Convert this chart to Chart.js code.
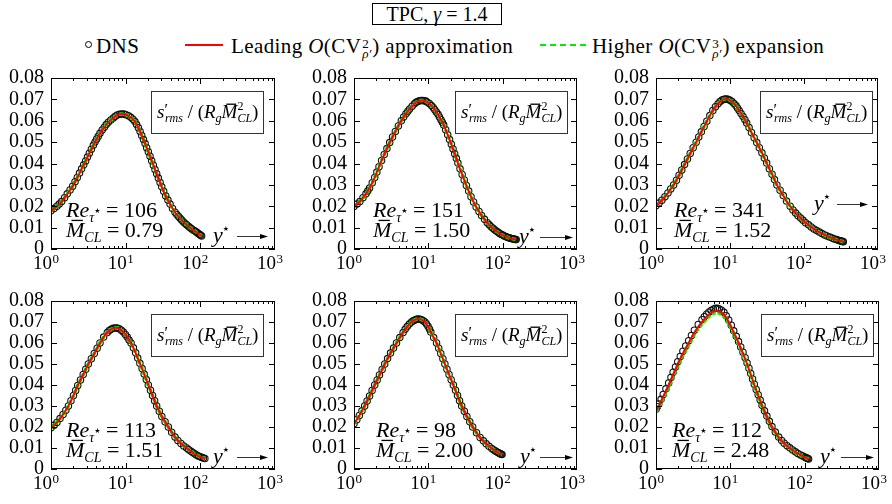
<!DOCTYPE html>
<html>
<head>
<meta charset="utf-8">
<script src="https://cdn.jsdelivr.net/npm/chart.js@4.4.1/dist/chart.umd.min.js"></script>
<style>
  body { margin: 0; background: #fff; width: 892px; height: 504px; position: relative; overflow: hidden;
         font-family: "Liberation Serif", "Times New Roman", serif; color: #000; }
  canvas { position: absolute; }
  .t { position: absolute; font-size: 21px; line-height: 19px; letter-spacing: 0.4px; white-space: nowrap; }
  #title { position: absolute; left: 372px; top: 3px; width: 130px; height: 22px; border: 1px solid #000;
           box-sizing: border-box; font-size: 20px; line-height: 20px; text-align: center; white-space: nowrap; }
  .ss { display: inline-block; vertical-align: -5px; font-size: 13px; line-height: 10px; text-align: left; margin: 0 1px; letter-spacing: 0; }
  #dnsMark { position: absolute; left: 85px; top: 41px; width: 5px; height: 5px; border: 1.3px solid #000; border-radius: 50%; }
  #redMark { position: absolute; left: 185px; top: 44px; width: 38px; height: 2px; background: #ff0000; }
  #greenMark { position: absolute; left: 540px; top: 44px; width: 46px; border-top: 2px dashed #00ee00; }
</style>
</head>
<body>
<div id="title">TPC, <i>γ</i> = 1.4</div>
<div id="dnsMark"></div>
<div class="t" style="left:96px;top:37px">DNS</div>
<div id="redMark"></div>
<div class="t" style="left:231px;top:37px">Leading <i>O</i>(CV<span class="ss">2<br><i>ρ′</i></span>) approximation</div>
<div id="greenMark"></div>
<div class="t" style="left:592px;top:37px">Higher <i>O</i>(CV<span class="ss">3<br><i>ρ′</i></span>) expansion</div>

<canvas id="c1"></canvas>
<canvas id="c2"></canvas>
<canvas id="c3"></canvas>
<canvas id="c4"></canvas>
<canvas id="c5"></canvas>
<canvas id="c6"></canvas>

<script>
// axis ticks
const yTicks = [0, 0.01, 0.02, 0.03, 0.04, 0.05, 0.06, 0.07, 0.08];
const xDecades = [1, 10, 100, 1000];
const xExps = ['0', '1', '2', '3'];

// panel 1: Re = 106, M = 0.79
const yp1 = [1, 1.1, 1.2, 1.29, 1.39, 1.52, 1.65, 1.8, 1.95, 2.1, 2.25, 2.41, 2.57, 2.74, 2.91, 3.08, 3.26, 3.47, 3.69, 3.89,
  4.09, 4.3, 4.53, 4.85, 5.18, 5.5, 5.86, 6.33, 6.84, 7.27, 7.73, 8.27, 8.84, 9.45, 10.1, 10.9, 11.7, 12.5, 13.3, 14.0,
  14.8, 15.6, 16.4, 17.3, 18.2, 19.1, 20.1, 21.2, 22.3, 23.5, 24.7, 26, 27.4, 28.9, 30.4, 32.3, 34.4, 36.8, 39.3, 42.4,
  45.8, 48.4, 51, 53.6, 56.2, 59, 62, 65.5, 69.1, 72.5, 76, 80, 84.8, 88.5, 92, 95, 98, 101, 104];
const dns1 = [0.0179, 0.0189, 0.0200, 0.0210, 0.0222, 0.0240, 0.0258, 0.0276, 0.0294, 0.0315, 0.0335, 0.0355, 0.0375, 0.0394, 0.0412, 0.0430, 0.0448, 0.0467, 0.0485, 0.0501,
  0.0515, 0.0528, 0.0541, 0.0557, 0.0570, 0.0582, 0.0593, 0.0604, 0.0613, 0.0621, 0.0627, 0.0630, 0.0632, 0.0631, 0.0628, 0.0623, 0.0616, 0.0607, 0.0596, 0.0582,
  0.0567, 0.0550, 0.0531, 0.0512, 0.0493, 0.0474, 0.0455, 0.0434, 0.0413, 0.0392, 0.0372, 0.0352, 0.0332, 0.0311, 0.0291, 0.0270, 0.0248, 0.0229, 0.0210, 0.0190,
  0.0172, 0.0161, 0.0152, 0.0144, 0.0136, 0.0128, 0.0121, 0.0114, 0.0107, 0.0101, 0.0095, 0.0089, 0.0084, 0.0079, 0.0075, 0.0071, 0.0068, 0.0064, 0.0061];

// panel 2: Re = 151, M = 1.50
const yp2 = [1, 1.1, 1.2, 1.32, 1.45, 1.53, 1.62, 1.76, 1.9, 2.03, 2.17, 2.35, 2.55, 2.77, 3.02, 3.3, 3.6, 3.95, 4.33, 4.66,
  5.0, 5.3, 5.6, 6.05, 6.5, 6.85, 7.2, 7.6, 8.0, 8.4, 8.8, 9.2, 9.6, 10.3, 11, 11.6, 12.2, 12.8, 13.5, 14.1,
  14.8, 15.4, 16.1, 17.1, 18.2, 19.3, 20.4, 21.5, 22.6, 23.8, 25, 26.7, 28.5, 30.4, 32.5, 34.9, 37.5, 40.6, 44,
  48, 52, 57, 62, 66, 70, 74, 78, 82, 87, 91, 95, 100, 105, 110, 115, 120, 125, 130, 135, 140, 144, 148, 152];
const dns2 = [0.0199, 0.0210, 0.0222, 0.0240, 0.0258, 0.0271, 0.0285, 0.0310, 0.0335, 0.0360, 0.0385, 0.0414, 0.0442, 0.0470, 0.0498, 0.0524, 0.0550, 0.0576, 0.0600, 0.0618,
  0.0633, 0.0645, 0.0655, 0.0668, 0.0679, 0.0686, 0.0690, 0.0693, 0.0695, 0.0695, 0.0694, 0.0692, 0.0688, 0.0681, 0.0671, 0.0662, 0.0652, 0.0641, 0.0630, 0.0618,
  0.0605, 0.0593, 0.0580, 0.0558, 0.0535, 0.0512, 0.0490, 0.0468, 0.0446, 0.0424, 0.0402, 0.0375, 0.0349, 0.0323, 0.0297, 0.0271, 0.0245, 0.0220, 0.0197,
  0.0176, 0.0157, 0.0139, 0.0123, 0.0113, 0.0104, 0.0097, 0.0090, 0.0084, 0.0078, 0.0073, 0.0069, 0.0065, 0.0061, 0.0058, 0.0055, 0.0053, 0.0051, 0.0049, 0.0048, 0.0047, 0.0046, 0.0045, 0.0044];

// panel 3: Re = 341, M = 1.52
const yp3 = [1, 1.1, 1.2, 1.32, 1.45, 1.58, 1.73, 1.89, 2.05, 2.23, 2.43, 2.66, 2.9, 3.18, 3.49, 3.78, 4.1, 4.46, 4.86, 5.34,
  5.86, 6.36, 6.9, 7.34, 7.8, 8.2, 8.6, 9.05, 9.5, 10.0, 10.6, 11.3, 12, 12.6, 13.3, 14.1, 15, 15.9, 16.8, 18.1,
  19.5, 21.2, 23, 24.9, 27, 29.1, 31.3, 34, 37, 39.9, 43, 47.5, 52.5,
  58, 65, 71, 77, 83, 90, 97, 105, 115, 125, 136, 148, 161, 175, 190, 205, 222, 240, 257, 275, 290, 305, 315, 325, 333, 340];
const dns3 = [0.0202, 0.0215, 0.0228, 0.0245, 0.0262, 0.0281, 0.0300, 0.0322, 0.0345, 0.0370, 0.0395, 0.0421, 0.0447, 0.0474, 0.0500, 0.0524, 0.0548, 0.0573, 0.0598, 0.0624,
  0.0648, 0.0666, 0.0680, 0.0690, 0.0697, 0.0700, 0.0702, 0.0702, 0.0700, 0.0696, 0.0690, 0.0681, 0.0671, 0.0660, 0.0648, 0.0634, 0.0620, 0.0605, 0.0590, 0.0568,
  0.0545, 0.0521, 0.0498, 0.0474, 0.0450, 0.0426, 0.0402, 0.0376, 0.0350, 0.0325, 0.0300, 0.0275, 0.0250,
  0.0224, 0.0200, 0.0183, 0.0168, 0.0156, 0.0145, 0.0134, 0.0123, 0.0113, 0.0103, 0.0094, 0.0086, 0.0079, 0.0072, 0.0066, 0.0061, 0.0056, 0.0051, 0.0047, 0.0044, 0.0041, 0.0039, 0.0037, 0.0036, 0.0035, 0.0034];

// panel 4: Re = 113, M = 1.51
const yp4 = [1, 1.1, 1.2, 1.32, 1.45, 1.58, 1.71, 1.85, 2.0, 2.14, 2.28, 2.48, 2.7, 2.92, 3.16, 3.47, 3.8, 4.15, 4.53, 5.07,
  5.68, 6.03, 6.4, 6.8, 7.2, 7.7, 8.2, 8.75, 9.3, 9.9, 10.5, 11.1, 11.8, 12.7, 13.6, 14.5, 15.5, 16.6, 17.7, 18.9,
  20.1, 21.5, 22.9, 24.4, 26, 28.2, 30.5, 33.7, 37.3, 41.3, 45.8,
  50, 55, 60, 65.6, 70, 75, 80, 85, 90, 95, 100, 105, 110, 115];
const dns4 = [0.0196, 0.0208, 0.0222, 0.0240, 0.0260, 0.0280, 0.0300, 0.0325, 0.0350, 0.0374, 0.0398, 0.0424, 0.0450, 0.0475, 0.0500, 0.0525, 0.0550, 0.0575, 0.0600, 0.0628,
  0.0650, 0.0659, 0.0665, 0.0670, 0.0672, 0.0671, 0.0668, 0.0661, 0.0652, 0.0641, 0.0628, 0.0614, 0.0600, 0.0577, 0.0553, 0.0528, 0.0503, 0.0478, 0.0452, 0.0426,
  0.0400, 0.0375, 0.0350, 0.0325, 0.0300, 0.0275, 0.0250, 0.0225, 0.0200, 0.0175, 0.0152,
  0.0136, 0.0122, 0.0110, 0.0100, 0.0092, 0.0084, 0.0077, 0.0071, 0.0066, 0.0061, 0.0058, 0.0055, 0.0052, 0.0050];

// panel 5: Re = 98, M = 2.00
const yp5 = [1, 1.09, 1.18, 1.28, 1.39, 1.5, 1.62, 1.75, 1.9, 2.05, 2.2, 2.39, 2.59, 2.83, 3.1, 3.4, 3.73, 4.13, 4.58, 4.88,
  5.2, 5.55, 5.94, 6.26, 6.6, 6.95, 7.3, 7.7, 8.1, 8.55, 9.0, 9.45, 9.9, 10.35, 10.8, 11.8, 12.9, 13.8, 14.7, 15.7,
  16.7, 17.8, 19, 20.3, 21.7, 23.2, 24.7, 26.3, 28.1, 30.5, 33, 36.1, 39.5,
  44.5, 49.7, 55, 60, 65.5, 71.3, 76, 80, 84, 88, 91, 94, 96, 98];
const dns5 = [0.0215, 0.0235, 0.0255, 0.0277, 0.0300, 0.0324, 0.0348, 0.0374, 0.0400, 0.0424, 0.0448, 0.0474, 0.0500, 0.0526, 0.0552, 0.0576, 0.0600, 0.0626, 0.0650, 0.0665,
  0.0678, 0.0690, 0.0700, 0.0706, 0.0710, 0.0713, 0.0714, 0.0713, 0.0711, 0.0706, 0.0700, 0.0691, 0.0680, 0.0667, 0.0652, 0.0626, 0.0600, 0.0575, 0.0550, 0.0525,
  0.0500, 0.0475, 0.0450, 0.0425, 0.0400, 0.0375, 0.0350, 0.0325, 0.0300, 0.0275, 0.0250, 0.0225, 0.0200,
  0.0173, 0.0150, 0.0134, 0.0120, 0.0108, 0.0098, 0.0091, 0.0086, 0.0081, 0.0077, 0.0074, 0.0072, 0.0070, 0.0069];

// panel 6: Re = 112, M = 2.48 (the three curves separate a little near the peak)
const yp6 = [1, 1.04, 1.09, 1.17, 1.25, 1.36, 1.48, 1.59, 1.7, 1.83, 1.96, 2.12, 2.3, 2.51, 2.75, 3.0, 3.28, 3.7, 4.16, 4.47,
  4.8, 5.14, 5.5, 5.9, 6.3, 6.7, 7.1, 7.6, 8.2, 8.8, 9.5, 10.3, 11.1, 12.0, 12.9, 13.8, 14.8, 15.8, 16.8, 17.8,
  18.8, 19.9, 21, 22.3, 23.7, 25.2, 26.7, 28.8, 31, 33.5, 36.3, 40.3, 44.7,
  49, 53, 58, 63, 69, 75, 81, 88, 94, 100, 104, 107, 110, 113];
const dns6 = [0.0285, 0.0297, 0.0310, 0.0332, 0.0355, 0.0382, 0.0410, 0.0436, 0.0461, 0.0486, 0.0511, 0.0536, 0.0561, 0.0586, 0.0611, 0.0636, 0.0661, 0.0688, 0.0711, 0.0725,
  0.0737, 0.0747, 0.0755, 0.0761, 0.0765, 0.0765, 0.0762, 0.0756, 0.0746, 0.0730, 0.0710, 0.0685, 0.0658, 0.0632, 0.0607, 0.0581, 0.0556, 0.0530, 0.0505, 0.0480,
  0.0455, 0.0429, 0.0404, 0.0379, 0.0354, 0.0328, 0.0303, 0.0277, 0.0252, 0.0227, 0.0202, 0.0176, 0.0152,
  0.0136, 0.0123, 0.0111, 0.0101, 0.0091, 0.0082, 0.0074, 0.0067, 0.0062, 0.0057, 0.0054, 0.0052, 0.0050, 0.0048];
const lead6 = [0.0275, 0.0287, 0.0300, 0.0322, 0.0345, 0.0372, 0.0400, 0.0425, 0.0450, 0.0475, 0.0500, 0.0525, 0.0550, 0.0575, 0.0600, 0.0625, 0.0650, 0.0677, 0.0700, 0.0713,
  0.0725, 0.0735, 0.0743, 0.0749, 0.0753, 0.0753, 0.0750, 0.0744, 0.0735, 0.0720, 0.0700, 0.0676, 0.0650, 0.0625, 0.0600, 0.0575, 0.0550, 0.0525, 0.0500, 0.0475,
  0.0450, 0.0425, 0.0400, 0.0375, 0.0350, 0.0325, 0.0300, 0.0275, 0.0250, 0.0225, 0.0200, 0.0175, 0.0150,
  0.0134, 0.0122, 0.0110, 0.0100, 0.0090, 0.0081, 0.0073, 0.0066, 0.0061, 0.0056, 0.0053, 0.0051, 0.0049, 0.0047];
const high6 = [0.0270, 0.0281, 0.0293, 0.0314, 0.0337, 0.0364, 0.0392, 0.0417, 0.0442, 0.0467, 0.0492, 0.0517, 0.0542, 0.0567, 0.0592, 0.0617, 0.0642, 0.0669, 0.0692, 0.0705,
  0.0717, 0.0727, 0.0735, 0.0741, 0.0745, 0.0745, 0.0742, 0.0736, 0.0727, 0.0713, 0.0693, 0.0670, 0.0645, 0.0620, 0.0596, 0.0571, 0.0547, 0.0522, 0.0497, 0.0472,
  0.0448, 0.0423, 0.0398, 0.0374, 0.0349, 0.0324, 0.0299, 0.0274, 0.0249, 0.0224, 0.0199, 0.0174, 0.0149,
  0.0133, 0.0121, 0.0109, 0.0099, 0.0089, 0.0080, 0.0072, 0.0065, 0.0060, 0.0055, 0.0052, 0.0050, 0.0048, 0.0046];

const FONT = '"Liberation Serif", "Times New Roman", serif';
const STAR = '"DejaVu Sans", sans-serif';

// rect = plot area [left, top, right, bottom]; txt/box/ys = where the labels sit
const panels = [
  { id: 'c1', rect: [51, 75, 275, 249], yp: yp1, dns: dns1, lead: dns1, high: dns1, re: '106', mcl: '0.79', txt: 15, box: 12, ys: [-62, -38, -7, 13] },
  { id: 'c2', rect: [354, 75, 577, 249], yp: yp2, dns: dns2, lead: dns2, high: dns2, re: '151', mcl: '1.50', txt: 19, box: 10, ys: [-58, -37, -4, 12] },
  { id: 'c3', rect: [656, 75, 878, 249], yp: yp3, dns: dns3, lead: dns3, high: dns3, re: '341', mcl: '1.52', txt: 18, box: 6, ys: [-64, -41, -10, 45] },
  { id: 'c4', rect: [51, 298, 275, 469], yp: yp4, dns: dns4, lead: dns4, high: dns4, re: '113', mcl: '1.51', txt: 15, box: 12, ys: [-62, -38, -7, 12] },
  { id: 'c5', rect: [354, 298, 577, 469], yp: yp5, dns: dns5, lead: dns5, high: dns5, re: '98', mcl: '2.00', txt: 22, box: 10, ys: [-57, -37, -4, 12] },
  { id: 'c6', rect: [656, 298, 879, 469], yp: yp6, dns: dns6, lead: lead6, high: high6, re: '112', mcl: '2.48', txt: 16, box: 6, ys: [-59, -38, -5, 12] }
];

const PAD_L = 50, PAD_T = 14, PAD_R = 20, PAD_B = 28;

function drawParts(ctx, x, y, parts) {
  for (const p of parts) {
    ctx.font = (p.i ? 'italic ' : '') + p.s + 'px ' + (p.f || FONT);
    const w = ctx.measureText(p.t).width;
    const px = x + (p.dx || 0);
    ctx.fillText(p.t, px, y + (p.dy || 0));
    if (p.bar) ctx.fillRect(px + w * 0.3, y - p.s * 0.76, w * 0.62, 1.3);
    if (!p.stay) x = px + w;
  }
  return x;
}

const decor = {
  id: 'decor',
  afterDraw(chart, args, o) {
    const ctx = chart.ctx;
    const { left, right, top, bottom } = chart.chartArea;
    const xs = chart.scales.x, ys = chart.scales.y;
    ctx.save();
    ctx.strokeStyle = '#000';
    ctx.fillStyle = '#000';
    ctx.lineWidth = 1;
    ctx.strokeRect(left + 0.5, top + 0.5, right - left - 1, bottom - top - 1);

    // inward ticks
    ctx.beginPath();
    yTicks.forEach(v => {
      const py = Math.round(ys.getPixelForValue(v)) + 0.5;
      ctx.moveTo(left, py); ctx.lineTo(left + 6, py);
      ctx.moveTo(right, py); ctx.lineTo(right - 6, py);
    });
    [1, 10, 100].forEach(d => {
      for (let m = 1; m <= 9; m++) {
        const v = d * m;
        if (v <= 1) continue;
        const px = Math.round(xs.getPixelForValue(v)) + 0.5;
        const len = m === 1 ? 6 : 3;
        ctx.moveTo(px, bottom); ctx.lineTo(px, bottom - len);
        ctx.moveTo(px, top); ctx.lineTo(px, top + len);
      }
    });
    ctx.stroke();

    // x tick labels: "10" with a raised exponent
    ctx.textBaseline = 'alphabetic';
    xDecades.forEach((d, i) => {
      const px = xs.getPixelForValue(d);
      ctx.textAlign = 'right';
      ctx.font = '19px ' + FONT;
      ctx.fillText('10', px + 1, bottom + 19.5);
      ctx.textAlign = 'left';
      ctx.font = '13px ' + FONT;
      ctx.fillText(xExps[i], px + 1.5, bottom + 14);
    });
    ctx.textAlign = 'left';

    // quantity box
    const bw = 112, bh = 42;
    const bx = right - o.box - bw, by = top + 13;
    ctx.strokeStyle = '#333';
    ctx.strokeRect(Math.round(bx) + 0.5, Math.round(by) + 0.5, bw, bh);
    drawParts(ctx, bx + 6, by + 27, [
      { t: 's', i: 1, s: 19 }, { t: '′', s: 16, dy: -3 }, { t: 'rms', i: 1, s: 12, dy: 4, dx: -3 },
      { t: ' / (', s: 19 }, { t: 'R', i: 1, s: 19 }, { t: 'g', i: 1, s: 12, dy: 4 },
      { t: 'M', i: 1, s: 19, bar: 1 }, { t: '2', s: 12, dy: -8, stay: 1 },
      { t: 'CL', i: 1, s: 12, dy: 4 }, { t: ')', s: 19 }
    ]);

    // Re and Mach labels
    const tx = left + o.txt;
    drawParts(ctx, tx, bottom - 32.5, [
      { t: 'Re', i: 1, s: 22 }, { t: 'τ', i: 1, s: 14, dy: 5 }, { t: '★', s: 7, dy: -4, f: STAR },
      { t: ' = ' + o.re, s: 22 }
    ]);
    drawParts(ctx, tx, bottom - 12.5, [
      { t: 'M', i: 1, s: 22, bar: 1 }, { t: 'CL', i: 1, s: 14, dy: 5 }, { t: ' = ' + o.mcl, s: 22 }
    ]);

    // y* arrow
    const ay = bottom - o.ys[3];
    drawParts(ctx, right + o.ys[0], ay + 6, [{ t: 'y', i: 1, s: 22 }, { t: '★', s: 7, dy: -11, f: STAR }]);
    const x1 = right + o.ys[1], x2 = right + o.ys[2];
    ctx.beginPath();
    ctx.moveTo(x1, ay + 0.5); ctx.lineTo(x2 - 6, ay + 0.5);
    ctx.stroke();
    ctx.beginPath();
    ctx.moveTo(x2, ay + 0.5); ctx.lineTo(x2 - 8, ay - 2); ctx.lineTo(x2 - 8, ay + 3);
    ctx.closePath(); ctx.fill();
    ctx.restore();
  }
};

function makePanel(p) {
  const [l, t, r, b] = p.rect;
  const cv = document.getElementById(p.id);
  cv.width = (r - l) + PAD_L + PAD_R;
  cv.height = (b - t) + PAD_T + PAD_B;
  cv.style.left = (l - PAD_L) + 'px';
  cv.style.top = (t - PAD_T) + 'px';
  const pts = vals => p.yp.map((x, i) => ({ x: x, y: vals[i] }));

  new Chart(cv, {
    type: 'line',
    data: {
      datasets: [
        { label: 'Leading', data: pts(p.lead), borderColor: '#ff0000', borderWidth: 2, pointRadius: 0, tension: 0.3, order: 0 },
        { label: 'Higher', data: pts(p.high), borderColor: '#00ee00', borderWidth: 3.5, borderDash: [4, 2], pointRadius: 0, tension: 0.3, order: 1 },
        { label: 'DNS', data: pts(p.dns), showLine: false, pointStyle: 'circle', pointRadius: 3.2,
          pointBorderWidth: 1.1, pointBorderColor: '#111', pointBackgroundColor: 'rgba(0,0,0,0)', order: 2 }
      ]
    },
    options: {
      responsive: false,
      animation: false,
      devicePixelRatio: 1,
      layout: { padding: { top: PAD_T, right: PAD_R, left: 0, bottom: 0 } },
      plugins: {
        legend: { display: false },
        tooltip: { enabled: false },
        decor: { box: p.box, txt: p.txt, ys: p.ys, re: p.re, mcl: p.mcl }
      },
      scales: {
        x: {
          type: 'logarithmic', min: 1, max: 1000,
          grid: { display: false, drawTicks: false }, border: { display: false },
          ticks: { display: false },
          afterFit: s => { s.height = PAD_B; }
        },
        y: {
          min: 0, max: 0.08,
          grid: { display: false, drawTicks: false }, border: { display: false },
          ticks: {
            stepSize: 0.01, padding: 7, color: '#000', autoSkip: false,
            font: { family: FONT, size: 20, lineHeight: 1 },
            callback: v => Math.abs(v) < 1e-9 ? '0' : v.toFixed(2)
          },
          afterFit: s => { s.width = PAD_L; }
        }
      }
    },
    plugins: [decor]
  });
}

panels.forEach(makePanel);
</script>
</body>
</html>
